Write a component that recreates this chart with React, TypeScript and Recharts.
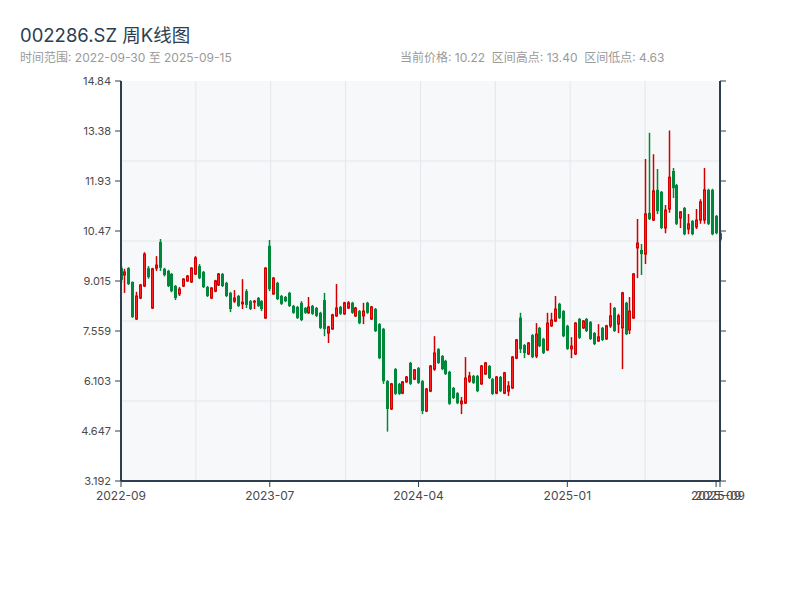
import { ComposedChart, Bar, XAxis, YAxis, CartesianGrid } from "recharts";

// weekly OHLC, 2022-09-30 .. 2025-09-15
const openPrices = [
  9.39, 9.19, 9.39, 8.99, 7.91, 8.52, 8.87, 9.39, 8.23, 9.39,
  10.15, 9.37, 9.31, 9.22, 8.87, 8.64, 8.87, 9.02, 8.99, 9.22,
  9.45, 9.28, 8.84, 8.52, 8.72, 8.9, 9.22, 8.96, 8.67, 8.43,
  8.58, 8.35, 8.72, 8.43, 8.4, 8.52, 8.43, 7.94, 10.04, 8.64,
  8.96, 8.58, 8.55, 8.67, 8.29, 8.26, 8.38, 8.23, 8.09, 8.29,
  8.23, 8.09, 8.46, 7.5, 7.62, 8.0, 8.26, 8.06, 8.23, 8.38,
  8.0, 8.14, 8.0, 8.38, 7.91, 8.2, 7.76, 7.62, 6.1, 5.29,
  6.45, 6.02, 5.75, 6.08, 6.63, 6.16, 6.48, 6.1, 5.23, 5.81,
  6.45, 7.03, 6.83, 6.69, 6.37, 5.9, 5.75, 5.44, 5.46, 6.1,
  6.25, 6.25, 6.02, 6.31, 6.54, 6.16, 5.75, 6.22, 5.75, 5.81,
  5.9, 6.77, 7.95, 7.15, 6.89, 7.44, 6.83, 7.65, 7.33, 7.01,
  7.71, 7.85, 8.35, 8.14, 7.71, 7.04, 6.89, 7.91, 7.65, 7.91,
  7.82, 7.5, 7.27, 7.65, 7.33, 7.71, 8.23, 7.76, 7.65, 8.38,
  7.59, 7.94, 9.98, 9.92, 9.8, 11.0, 10.79, 11.67, 11.61, 10.56,
  11.11, 12.22, 11.81, 10.85, 11.14, 10.53, 10.76, 10.59, 10.79, 10.79,
  11.67, 11.67, 10.91, 10.41,
];
const highPrices = [
  9.45, 9.37, 9.42, 9.0, 8.7, 8.93, 9.85, 9.45, 9.4, 9.74,
  10.24, 9.4, 9.34, 9.25, 8.9, 8.84, 9.1, 9.19, 9.42, 9.74,
  9.51, 9.31, 8.87, 8.84, 9.05, 9.25, 9.25, 8.99, 8.7, 8.75,
  8.61, 9.07, 8.78, 8.46, 8.46, 8.55, 8.46, 9.42, 10.21, 9.13,
  8.99, 8.61, 8.58, 8.7, 8.32, 8.29, 8.43, 8.26, 8.55, 8.32,
  8.26, 8.12, 8.67, 7.71, 8.06, 8.93, 8.29, 8.41, 8.43, 8.41,
  8.26, 8.17, 8.38, 8.41, 8.29, 8.23, 7.79, 7.65, 6.13, 6.05,
  6.48, 6.05, 6.1, 6.25, 6.66, 6.45, 6.51, 6.13, 5.9, 6.57,
  7.41, 7.06, 6.86, 6.72, 6.4, 5.93, 5.78, 5.64, 6.8, 6.37,
  6.28, 6.28, 6.57, 6.66, 6.57, 6.19, 6.25, 6.25, 6.37, 6.1,
  6.83, 7.33, 8.09, 7.18, 7.24, 7.47, 7.79, 7.68, 7.36, 8.09,
  8.09, 8.58, 8.38, 8.17, 7.74, 7.38, 7.82, 7.94, 7.88, 7.94,
  7.85, 7.53, 7.76, 7.68, 7.74, 8.38, 8.26, 8.06, 8.7, 8.41,
  8.55, 9.25, 10.82, 10.09, 12.57, 13.33, 12.71, 12.28, 11.64, 11.23,
  13.4, 12.31, 11.84, 11.05, 11.17, 10.97, 10.79, 11.11, 11.4, 12.31,
  11.7, 11.7, 10.94, 10.44,
];
const lowPrices = [
  8.96, 8.67, 8.9, 7.94, 7.88, 8.49, 8.84, 9.08, 8.2, 9.31,
  9.31, 9.15, 8.84, 8.69, 8.46, 8.58, 8.84, 8.99, 8.96, 9.19,
  9.07, 8.81, 8.55, 8.49, 8.69, 8.87, 8.84, 8.55, 8.11, 8.38,
  8.26, 8.2, 8.23, 8.17, 8.2, 8.26, 8.14, 7.91, 8.72, 8.61,
  8.46, 8.32, 8.4, 8.26, 8.06, 7.91, 7.85, 8.06, 8.06, 8.03,
  7.97, 7.62, 7.41, 7.21, 7.59, 7.97, 8.03, 8.03, 8.2, 8.06,
  7.97, 7.76, 7.76, 8.06, 7.88, 7.53, 6.74, 6.02, 4.63, 5.26,
  5.7, 5.7, 5.72, 6.05, 5.99, 6.13, 6.02, 5.14, 5.2, 5.78,
  6.4, 6.6, 6.42, 6.28, 5.41, 5.58, 5.43, 5.14, 5.44, 6.05,
  6.02, 5.78, 5.99, 6.28, 6.16, 5.7, 5.72, 5.78, 5.72, 5.67,
  5.87, 6.74, 6.92, 6.77, 6.86, 6.77, 6.77, 7.09, 6.89, 6.98,
  7.68, 7.82, 7.91, 7.38, 7.01, 6.77, 6.86, 7.33, 7.62, 7.53,
  7.3, 7.15, 7.24, 7.27, 7.3, 7.65, 7.53, 7.5, 6.45, 7.44,
  7.47, 7.91, 9.1, 9.19, 9.51, 10.79, 10.76, 10.97, 10.53, 10.41,
  11.0, 11.43, 10.65, 10.56, 10.35, 10.38, 10.35, 10.53, 10.68, 10.68,
  10.65, 10.35, 10.38, 10.16,
];
const closePrices = [
  9.05, 9.28, 8.93, 7.97, 8.58, 8.9, 9.8, 9.13, 9.37, 9.48,
  9.4, 9.19, 8.87, 8.72, 8.52, 8.78, 9.07, 9.16, 9.39, 9.69,
  9.1, 8.84, 8.58, 8.81, 9.02, 9.22, 8.87, 8.58, 8.2, 8.52,
  8.29, 8.4, 8.32, 8.2, 8.43, 8.29, 8.2, 9.39, 8.78, 9.1,
  8.49, 8.35, 8.43, 8.29, 8.09, 7.94, 7.88, 8.09, 8.26, 8.06,
  8.0, 7.65, 7.62, 7.68, 8.03, 8.23, 8.06, 8.38, 8.38, 8.09,
  8.23, 7.79, 8.14, 8.09, 8.26, 7.56, 6.77, 6.1, 5.29, 6.02,
  5.73, 5.73, 6.08, 6.22, 6.02, 6.43, 6.05, 5.23, 5.87, 6.54,
  6.92, 6.63, 6.45, 6.31, 5.44, 5.61, 5.46, 5.52, 6.19, 6.25,
  6.05, 5.81, 6.54, 6.63, 6.19, 5.73, 6.22, 5.81, 6.34, 5.96,
  6.8, 7.3, 7.03, 6.92, 7.21, 6.8, 7.47, 7.12, 6.92, 7.79,
  7.88, 8.2, 7.94, 7.41, 7.04, 7.12, 7.79, 7.36, 7.85, 7.56,
  7.33, 7.18, 7.39, 7.3, 7.71, 8.0, 7.56, 8.0, 8.67, 7.47,
  8.14, 9.22, 10.12, 9.8, 10.97, 10.82, 11.64, 11.05, 10.56, 11.08,
  12.04, 11.72, 10.68, 11.03, 10.38, 10.68, 10.38, 10.79, 11.32, 11.67,
  10.68, 10.38, 10.41, 10.22,
];

const xTicks = [0, 38, 76, 114, 152, 153];
const xTickLabels = ["2022-09", "2023-07", "2024-04", "2025-01", "2025-09", "2025-09"];
const yTicks = [3.192, 4.648, 6.104, 7.56, 9.016, 10.472, 11.928, 13.384, 14.84];
const yTickLabels = ["3.192", "4.647", "6.103", "7.559", "9.015", "10.47", "11.93", "13.38", "14.84"];

const data = openPrices.map((open, i) => ({
  i,
  open,
  high: highPrices[i],
  low: lowPrices[i],
  close: closePrices[i],
  range: [lowPrices[i], highPrices[i]],
}));

const UP = "#ff1f1f";
const UP_EDGE = "#d10000";
const DOWN = "#00883a";
const AXIS = "#2c3e50";
const FONT = "Inter, 'Noto Sans CJK SC', sans-serif";

const Candle = (props: any) => {
  const { x, y, width, height, payload } = props;
  if (!payload || !height) return null;
  const { open, close, high, low } = payload;
  const up = close >= open;
  const toY = (v: number) => y + ((high - v) / (high - low)) * height;
  const cx = Math.round(x + width / 2) + 0.5;
  const top = toY(Math.max(open, close));
  const bot = toY(Math.min(open, close));
  const color = up ? UP_EDGE : DOWN;
  return (
    <g>
      <line x1={cx} x2={cx} y1={y} y2={y + height} stroke={color} strokeWidth={1.5} />
      {up ? (
        <rect x={cx - 1} y={top} width={2} height={Math.max(bot - top, 1)} fill={UP} stroke={UP_EDGE} strokeWidth={1} />
      ) : (
        <rect x={cx - 1.5} y={top} width={3} height={Math.max(bot - top, 1)} fill={DOWN} />
      )}
    </g>
  );
};

export default function App() {
  return (
    <div style={{ position: "absolute", left: 0, top: 0, width: 800, height: 600, background: "#fff", fontFamily: FONT }}>
      <div style={{ position: "absolute", left: 20, top: 23, fontSize: 18.5, color: AXIS, lineHeight: "24px" }}>
        002286.SZ 周K线图
      </div>
      <div style={{ position: "absolute", left: 20, top: 50, fontSize: 12, color: "#9a9a9a", lineHeight: "16px" }}>
        时间范围: 2022-09-30 至 2025-09-15
      </div>
      <div style={{ position: "absolute", left: 400, top: 50, fontSize: 12, color: "#9a9a9a", lineHeight: "16px", whiteSpace: "pre" }}>
        当前价格: 10.22  区间高点: 13.40  区间低点: 4.63
      </div>
      <ComposedChart width={800} height={600} data={data} margin={{ top: 81, right: 20, bottom: 89, left: 61 }}>
        <CartesianGrid
          yAxisId="left"
          fill="#f7f8fa"
          stroke="#e3e6eb"
          horizontalCoordinatesGenerator={({ offset }: any) => [1, 2, 3, 4].map((k) => offset.top + (offset.height * k) / 5)}
          verticalCoordinatesGenerator={({ offset }: any) => [1, 2, 3, 4, 5, 6, 7].map((k) => offset.left + (offset.width * k) / 8)}
        />
        <XAxis
          type="number"
          dataKey="i"
          domain={[0, 153]}
          ticks={xTicks}
          interval={0}
          tickFormatter={(v: number) => xTickLabels[xTicks.lastIndexOf(v)]}
          axisLine={{ stroke: AXIS, strokeWidth: 2 }}
          tickLine={{ stroke: AXIS }}
          tick={{ fill: "#4a4a4a", fontSize: 12, fontFamily: FONT }}
          tickMargin={4}
          height={30}
        />
        <YAxis
          yAxisId="left"
          domain={[3.192, 14.84]}
          ticks={yTicks}
          interval={0}
          tickFormatter={(v: number) => yTickLabels[yTicks.indexOf(v)]}
          axisLine={{ stroke: AXIS, strokeWidth: 2 }}
          tickLine={{ stroke: AXIS }}
          tick={{ fill: "#4a4a4a", fontSize: 11, fontFamily: FONT }}
          tickMargin={4}
          width={60}
          allowDataOverflow
        />
        <YAxis
          yAxisId="right"
          orientation="right"
          domain={[3.192, 14.84]}
          ticks={yTicks}
          interval={0}
          tickFormatter={() => ""}
          axisLine={{ stroke: AXIS, strokeWidth: 2 }}
          tickLine={{ stroke: AXIS }}
          width={60}
          allowDataOverflow
        />
        <Bar yAxisId="left" dataKey="range" barSize={3} shape={<Candle />} isAnimationActive={false} />
      </ComposedChart>
    </div>
  );
}
